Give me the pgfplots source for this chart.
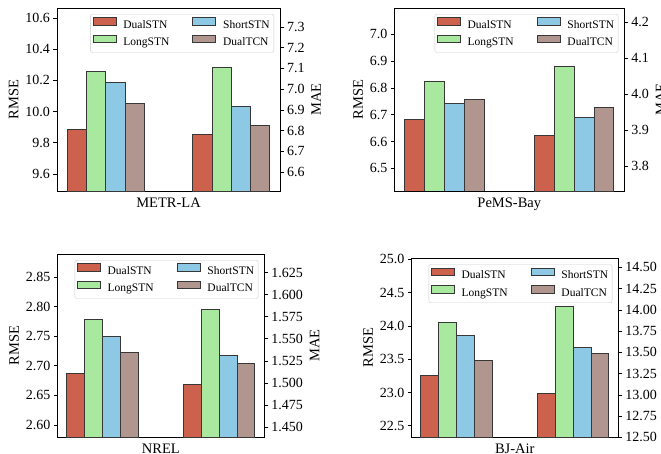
\documentclass[border=0pt]{standalone}
\usepackage{fontspec}
\setmainfont{Liberation Serif}
\usepackage{pgfplots}
\pgfplotsset{compat=1.18}
\definecolor{cA}{RGB}{204,97,78}
\definecolor{cB}{RGB}{169,232,159}
\definecolor{cC}{RGB}{141,200,228}
\definecolor{cD}{RGB}{177,150,143}
\definecolor{edge}{RGB}{55,55,55}
\pgfplotsset{
  base/.style={scale only axis, xmin=-0.525, xmax=11.025, xtick=\empty,
    tick align=outside, major tick length=3.5pt,
    every tick/.style={black, line width=0.6pt},
    axis line style={black, line width=0.8pt},
    ticklabel style={font=\fontsize{14}{15}\selectfont},
    label style={font=\fontsize{14.5}{16}\selectfont},
    /pgf/number format/assume math mode=true,
    /pgf/number format/fixed, /pgf/number format/zerofill},
  bars/.style={ybar, bar width=1, bar shift=0pt, draw=edge, line width=0.8pt},
  leftax/.style={base, ytick pos=left, yticklabel pos=left},
  rightax/.style={base, axis x line=none, axis y line*=right},
  leg/.style={legend columns=2, legend cell align=left,
    legend image code/.code={\draw[##1,/tikz/.cd,sharp corners,fill opacity=1] (0pt,0pt) rectangle (23pt,7.5pt);},
    legend style={at={(1,1)}, anchor=north east, xshift=-6pt, yshift=-6pt,
      draw=black!20, rounded corners=2pt, fill=white, fill opacity=0.8, text opacity=1,
      font=\fontsize{11.5}{12}\selectfont, inner xsep=2pt, inner ysep=3pt, row sep=3pt,
      /tikz/every odd column/.append style={column sep=5pt},
      /tikz/every even column/.append style={column sep=21pt}}},
}
\begin{document}
\begin{tikzpicture}
% ---------- Panel 1: METR-LA ----------
\begin{axis}[leftax, at={(57pt,-8pt)}, anchor=north west, width=223pt, height=183pt,
  ymin=9.4896, ymax=10.665, ytick={9.6,9.8,10.0,10.2,10.4,10.6},
  /pgf/number format/precision=1, ylabel={RMSE}, xlabel={METR-LA}]
\addplot[bars, fill=cA] coordinates {(0.5,9.885)};
\addplot[bars, fill=cB] coordinates {(1.5,10.255)};
\addplot[bars, fill=cC] coordinates {(2.5,10.185)};
\addplot[bars, fill=cD] coordinates {(3.5,10.05)};
\end{axis}
\begin{axis}[rightax, leg, at={(57pt,-8pt)}, anchor=north west, width=223pt, height=183pt,
  ymin=6.509, ymax=7.391, ytick={6.6,6.7,6.8,6.9,7.0,7.1,7.2,7.3},
  /pgf/number format/precision=1, ylabel={MAE}]
\addplot[bars, fill=cA] coordinates {(7,6.78)};
\addplot[bars, fill=cC] coordinates {(9,6.917)};
\addplot[bars, fill=cB] coordinates {(8,7.107)};
\addplot[bars, fill=cD] coordinates {(10,6.827)};
\legend{DualSTN, ShortSTN, LongSTN, DualTCN}
\end{axis}
% ---------- Panel 2: PeMS-Bay ----------
\begin{axis}[leftax, at={(394.3pt,-8pt)}, anchor=north west, width=230pt, height=183pt,
  ymin=6.4157, ymax=7.098, ytick={6.5,6.6,6.7,6.8,6.9,7.0},
  /pgf/number format/precision=1, ylabel={RMSE}, xlabel={PeMS-Bay}]
\addplot[bars, fill=cA] coordinates {(0.5,6.683)};
\addplot[bars, fill=cB] coordinates {(1.5,6.825)};
\addplot[bars, fill=cC] coordinates {(2.5,6.742)};
\addplot[bars, fill=cD] coordinates {(3.5,6.758)};
\end{axis}
\begin{axis}[rightax, leg, at={(394.3pt,-8pt)}, anchor=north west, width=230pt, height=183pt,
  ymin=3.7306, ymax=4.239, ytick={3.8,3.9,4.0,4.1,4.2},
  /pgf/number format/precision=1, ylabel={MAE}]
\addplot[bars, fill=cA] coordinates {(7,3.886)};
\addplot[bars, fill=cC] coordinates {(9,3.935)};
\addplot[bars, fill=cB] coordinates {(8,4.076)};
\addplot[bars, fill=cD] coordinates {(10,3.962)};
\legend{DualSTN, ShortSTN, LongSTN, DualTCN}
\end{axis}
% ---------- Panel 3: NREL ----------
\begin{axis}[leftax, at={(57.3pt,-254pt)}, anchor=north west, width=207pt, height=183pt,
  ymin=2.5795, ymax=2.8891, ytick={2.60,2.65,2.70,2.75,2.80,2.85},
  /pgf/number format/precision=2, ylabel={RMSE}, xlabel={NREL}]
\addplot[bars, fill=cA] coordinates {(0.5,2.687)};
\addplot[bars, fill=cB] coordinates {(1.5,2.778)};
\addplot[bars, fill=cC] coordinates {(2.5,2.749)};
\addplot[bars, fill=cD] coordinates {(3.5,2.723)};
\end{axis}
\begin{axis}[rightax, leg, at={(57.3pt,-254pt)}, anchor=north west, width=207pt, height=183pt,
  ymin=1.4387, ymax=1.646, ytick={1.450,1.475,1.500,1.525,1.550,1.575,1.600,1.625},
  /pgf/number format/precision=3, ylabel={MAE}]
\addplot[bars, fill=cA] coordinates {(7,1.4986)};
\addplot[bars, fill=cC] coordinates {(9,1.5307)};
\addplot[bars, fill=cB] coordinates {(8,1.5827)};
\addplot[bars, fill=cD] coordinates {(10,1.5224)};
\legend{DualSTN, ShortSTN, LongSTN, DualTCN}
\end{axis}
% ---------- Panel 4: BJ-Air ----------
\begin{axis}[leftax, at={(411.3pt,-258.3pt)}, anchor=north west, width=207pt, height=179pt,
  ymin=22.327, ymax=25.015, ytick={22.5,23.0,23.5,24.0,24.5,25.0},
  /pgf/number format/precision=1, ylabel={RMSE}, xlabel={BJ-Air}]
\addplot[bars, fill=cA] coordinates {(0.5,23.257)};
\addplot[bars, fill=cB] coordinates {(1.5,24.053)};
\addplot[bars, fill=cC] coordinates {(2.5,23.858)};
\addplot[bars, fill=cD] coordinates {(3.5,23.477)};
\end{axis}
\begin{axis}[rightax, leg, at={(411.3pt,-258.3pt)}, anchor=north west, width=207pt, height=179pt,
  ymin=12.50, ymax=14.607, ytick={12.50,12.75,13.00,13.25,13.50,13.75,14.00,14.25,14.50},
  /pgf/number format/precision=2, ylabel={MAE}]
\addplot[bars, fill=cA] coordinates {(7,13.021)};
\addplot[bars, fill=cC] coordinates {(9,13.559)};
\addplot[bars, fill=cB] coordinates {(8,14.045)};
\addplot[bars, fill=cD] coordinates {(10,13.488)};
\legend{DualSTN, ShortSTN, LongSTN, DualTCN}
\end{axis}
\pgfresetboundingbox
\path[use as bounding box] (0pt,0pt) rectangle (661pt,-453pt);
\end{tikzpicture}
\end{document}
